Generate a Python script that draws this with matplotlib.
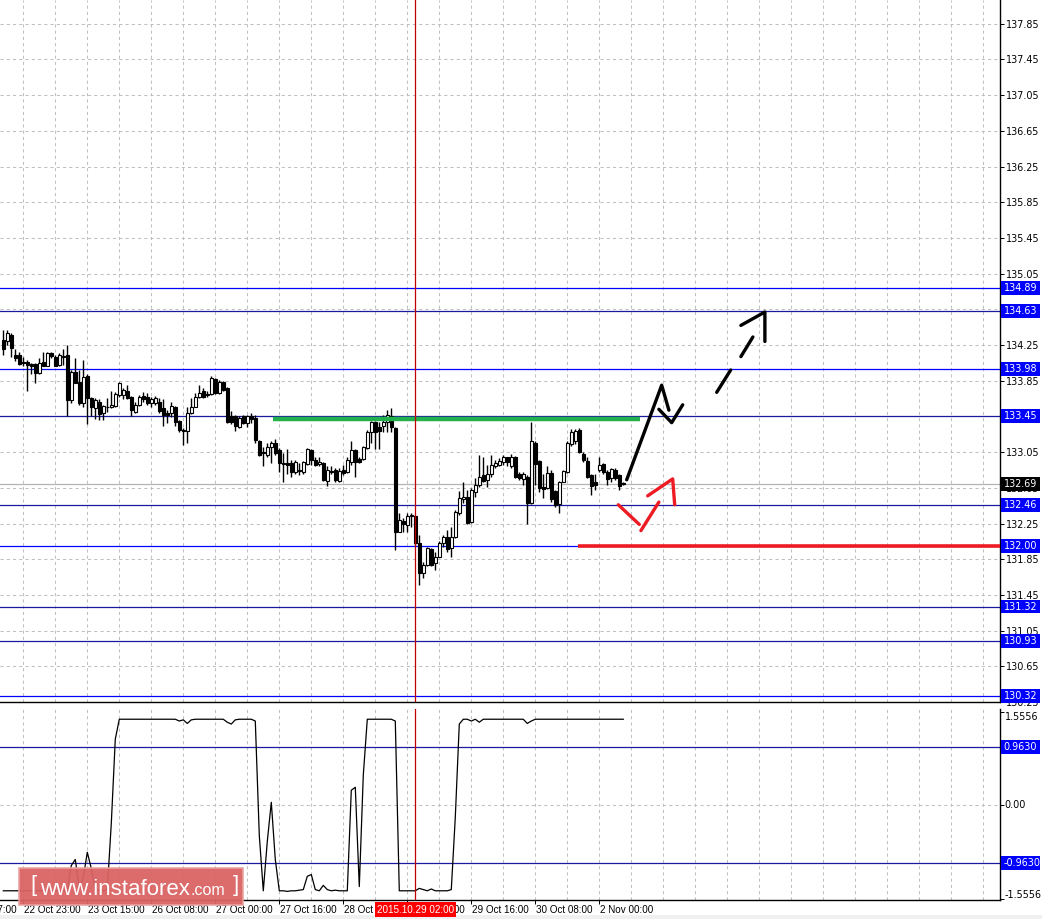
import matplotlib
matplotlib.use("Agg")
import matplotlib.pyplot as plt
import matplotlib.transforms as mtransforms
from matplotlib.patches import FancyBboxPatch, Rectangle
import numpy as np

# H1 candles, one per bar index
opens = [
    134.31, 134.30, 134.36, 134.14, 134.14, 134.06, 134.06, 134.04, 134.04, 133.94,
    134.06, 134.02, 134.16, 134.12, 134.03, 134.13, 134.14, 133.63, 133.95, 133.84,
    133.60, 133.90, 133.66, 133.54, 133.61, 133.49, 133.55, 133.56, 133.57, 133.69,
    133.69, 133.74, 133.67, 133.50, 133.58, 133.68, 133.67, 133.60, 133.60, 133.61,
    133.54, 133.49, 133.49, 133.56, 133.40, 133.30, 133.29, 133.49, 133.56, 133.67,
    133.73, 133.70, 133.70, 133.87, 133.71, 133.84, 133.77, 133.45, 133.45, 133.33,
    133.45, 133.38, 133.45, 133.43, 133.18, 133.05, 133.02, 133.11, 133.15, 133.07,
    132.93, 132.93, 132.93, 132.83, 132.85, 132.83, 132.92, 133.07, 132.96, 132.92,
    132.93, 132.73, 132.84, 132.85, 132.73, 132.85, 132.83, 132.94, 133.07, 132.97,
    132.97, 133.10, 133.27, 133.39, 133.33, 133.34, 133.39, 133.46, 133.32, 132.15,
    132.28, 132.23, 132.33, 132.33, 132.03, 131.69, 131.79, 131.96, 131.81, 131.88,
    132.03, 132.10, 131.97, 132.10, 132.37, 132.53, 132.55, 132.27, 132.60, 132.68,
    132.79, 132.74, 132.80, 132.89, 132.91, 132.94, 132.99, 132.89, 133.00, 132.80,
    132.75, 132.77, 132.48, 133.15, 132.95, 132.66, 132.65, 132.82, 132.61, 132.47,
    132.72, 132.83, 133.14, 133.17, 133.30, 133.03, 132.95, 132.79, 132.71, 132.85,
    132.92, 132.83, 132.76, 132.85, 132.79, 132.70,
]
highs = [
    134.42, 134.42, 134.38, 134.20, 134.17, 134.12, 134.08, 134.05, 134.05, 134.11,
    134.17, 134.17, 134.17, 134.14, 134.16, 134.20, 134.25, 133.97, 134.11, 133.97,
    134.08, 133.92, 133.67, 133.66, 133.64, 133.58, 133.66, 133.74, 133.72, 133.84,
    133.77, 133.80, 133.68, 133.61, 133.69, 133.72, 133.71, 133.67, 133.68, 133.66,
    133.64, 133.52, 133.61, 133.57, 133.41, 133.32, 133.55, 133.66, 133.71, 133.80,
    133.77, 133.73, 133.90, 133.88, 133.86, 133.85, 133.78, 133.51, 133.47, 133.46,
    133.47, 133.47, 133.49, 133.47, 133.19, 133.11, 133.15, 133.17, 133.20, 133.10,
    133.04, 133.09, 132.96, 132.96, 132.93, 132.95, 133.10, 133.09, 133.00, 132.99,
    132.94, 132.89, 132.89, 132.87, 132.87, 132.91, 132.99, 133.18, 133.08, 133.00,
    133.12, 133.30, 133.40, 133.40, 133.39, 133.47, 133.52, 133.54, 133.33, 132.37,
    132.31, 132.37, 132.37, 132.34, 132.12, 131.82, 131.99, 131.98, 131.93, 132.05,
    132.12, 132.18, 132.21, 132.40, 132.61, 132.72, 132.63, 132.65, 132.76, 133.02,
    132.99, 132.91, 133.02, 132.96, 132.98, 133.02, 133.00, 133.03, 133.01, 132.83,
    132.83, 132.79, 133.39, 133.17, 132.96, 132.80, 132.89, 132.85, 132.62, 132.73,
    132.85, 133.17, 133.31, 133.31, 133.32, 133.05, 132.99, 132.81, 132.80, 132.99,
    132.93, 132.85, 132.87, 132.87, 132.81, 132.71,
]
lows = [
    134.14, 134.25, 134.12, 134.07, 134.03, 134.01, 133.74, 133.92, 133.83, 133.93,
    134.01, 134.01, 134.10, 134.01, 134.01, 134.03, 133.46, 133.60, 133.82, 133.58,
    133.56, 133.36, 133.45, 133.42, 133.41, 133.41, 133.50, 133.54, 133.56, 133.67,
    133.65, 133.64, 133.45, 133.49, 133.57, 133.61, 133.58, 133.56, 133.58, 133.49,
    133.34, 133.38, 133.44, 133.34, 133.28, 133.13, 133.15, 133.48, 133.55, 133.66,
    133.66, 133.67, 133.69, 133.70, 133.70, 133.74, 133.38, 133.36, 133.29, 133.32,
    133.36, 133.33, 133.38, 133.15, 133.01, 132.90, 133.00, 132.93, 133.02, 132.83,
    132.72, 132.80, 132.77, 132.80, 132.79, 132.81, 132.91, 132.91, 132.89, 132.89,
    132.73, 132.67, 132.80, 132.72, 132.72, 132.79, 132.82, 132.91, 132.77, 132.93,
    132.96, 133.08, 133.15, 133.08, 133.08, 133.28, 133.28, 133.28, 131.95, 132.15,
    132.16, 132.16, 132.21, 132.01, 131.56, 131.64, 131.77, 131.77, 131.73, 131.87,
    131.99, 131.93, 131.87, 132.09, 132.35, 132.48, 132.25, 132.26, 132.55, 132.66,
    132.72, 132.66, 132.77, 132.87, 132.89, 132.91, 132.89, 132.87, 132.76, 132.74,
    132.68, 132.24, 132.47, 132.68, 132.60, 132.54, 132.64, 132.49, 132.44, 132.37,
    132.71, 132.82, 133.12, 133.14, 133.04, 132.94, 132.76, 132.57, 132.63, 132.83,
    132.81, 132.68, 132.72, 132.74, 132.63, 132.68,
]
closes = [
    134.21, 134.38, 134.22, 134.10, 134.04, 134.05, 134.03, 134.02, 133.94, 134.05,
    134.02, 134.16, 134.13, 134.02, 134.14, 134.12, 133.63, 133.95, 133.83, 133.60,
    133.89, 133.66, 133.55, 133.63, 133.48, 133.57, 133.56, 133.58, 133.70, 133.82,
    133.75, 133.66, 133.52, 133.58, 133.67, 133.65, 133.60, 133.65, 133.66, 133.51,
    133.47, 133.47, 133.57, 133.39, 133.30, 133.29, 133.49, 133.56, 133.67, 133.71,
    133.67, 133.69, 133.88, 133.71, 133.84, 133.75, 133.39, 133.39, 133.34, 133.43,
    133.38, 133.45, 133.42, 133.19, 133.02, 133.04, 133.11, 133.15, 133.04, 132.93,
    132.92, 132.91, 132.83, 132.94, 132.84, 132.94, 133.08, 132.96, 132.91, 132.94,
    132.74, 132.85, 132.83, 132.74, 132.84, 132.82, 132.96, 133.07, 132.94, 132.94,
    133.11, 133.27, 133.39, 133.27, 133.29, 133.39, 133.47, 133.33, 132.16, 132.29,
    132.25, 132.33, 132.35, 132.03, 131.70, 131.79, 131.97, 131.79, 131.87, 132.03,
    132.10, 131.96, 132.10, 132.38, 132.54, 132.55, 132.26, 132.62, 132.68, 132.77,
    132.73, 132.80, 132.91, 132.93, 132.95, 132.99, 132.94, 133.00, 132.77, 132.76,
    132.80, 132.48, 133.17, 132.92, 132.65, 132.64, 132.82, 132.52, 132.46, 132.72,
    132.84, 133.15, 133.28, 133.29, 133.05, 132.96, 132.77, 132.67, 132.68, 132.91,
    132.83, 132.75, 132.86, 132.76, 132.67, 132.69,
]

# oscillator in the lower window
osc = [
    -1.42, -1.42, -1.42, -1.42, -1.42, -1.42, -1.42, -1.42, -1.42, -1.42,
    -1.42, -1.42, -1.42, -1.42, -1.42, -1.42, -1.42, -1.00, -0.90, -1.38,
    -1.20, -0.78, -1.05, -1.40, -1.42, -1.42, -1.40, -0.30, 1.10, 1.43,
    1.43, 1.43, 1.43, 1.43, 1.43, 1.43, 1.43, 1.43, 1.43, 1.43,
    1.43, 1.43, 1.43, 1.43, 1.40, 1.42, 1.36, 1.42, 1.43, 1.43,
    1.43, 1.43, 1.43, 1.43, 1.43, 1.43, 1.38, 1.35, 1.42, 1.43,
    1.43, 1.43, 1.43, 1.40, -0.50, -1.42, -0.60, 0.05, -0.90, -1.42,
    -1.42, -1.43, -1.42, -1.42, -1.41, -1.40, -1.18, -1.15, -1.40, -1.42,
    -1.33, -1.40, -1.42, -1.41, -1.42, -1.42, -1.42, 0.25, 0.30, -1.35,
    0.50, 1.43, 1.43, 1.43, 1.43, 1.43, 1.43, 1.43, 1.40, -1.42,
    -1.42, -1.42, -1.42, -1.42, -1.38, -1.40, -1.42, -1.39, -1.42, -1.42,
    -1.42, -1.42, -1.40, -0.20, 1.35, 1.43, 1.43, 1.40, 1.43, 1.38,
    1.43, 1.43, 1.43, 1.43, 1.43, 1.43, 1.43, 1.43, 1.43, 1.43,
    1.43, 1.36, 1.40, 1.43, 1.43, 1.43, 1.43, 1.43, 1.43, 1.43,
    1.43, 1.43, 1.43, 1.43, 1.43, 1.43, 1.43, 1.43, 1.43, 1.43,
    1.43, 1.43, 1.43, 1.43, 1.43, 1.43,
]

# horizontal levels
levels = [134.89, 134.63, 133.98, 133.45, 132.46, 132.00, 131.32, 130.93, 130.32]
level_bright = [True, False, True, False, False, True, False, False, True]
last_price = 132.69
price_ticks = [137.85, 137.45, 137.05, 136.65, 136.25, 135.85, 135.45, 135.05, 134.65,
               134.25, 133.85, 133.45, 133.05, 132.65, 132.25, 131.85, 131.45, 131.05,
               130.65, 130.25]
osc_levels = [0.9630, -0.9630]
osc_limit = 1.5556

time_bars = [-11, 5, 21, 37, 53, 69, 85, 101, 117, 133, 149]
time_labels = ["22 Oct 07:00", "22 Oct 23:00", "23 Oct 15:00", "26 Oct 08:00",
               "27 Oct 00:00", "27 Oct 16:00", "28 Oct 08:00", "29 Oct 00:00",
               "29 Oct 16:00", "30 Oct 08:00", "2 Nov 00:00"]
cursor_bar = 103.05
cursor_label = "2015.10.29 02:00"

# hand drawn forecast (bar, price)
green_bars = [67.4, 159.2]
green_price = 133.42
red_bar_start = 143.7
red_price = 132.00
black_strokes = [
    ([155.85, 164.6, 166.4], [132.74, 133.80, 133.52]),
    ([163.9, 167.1, 169.85], [133.53, 133.38, 133.58]),
    ([178.35, 181.85], [133.72, 133.97]),
    ([184.4, 187.4], [134.12, 134.34]),
    ([184.4, 190.4, 190.4], [134.47, 134.62, 134.29]),
]
red_strokes = [
    ([153.75, 159.0], [132.46, 132.24]),
    ([159.4, 163.9], [132.17, 132.49]),
    ([161.1, 167.35, 167.85], [132.56, 132.75, 132.46]),
]

W, H = 1042, 919
fig = plt.figure(figsize=(W / 100, H / 100), dpi=100)
fig.patch.set_facecolor("white")
plt.rcParams["font.family"] = ["DejaVu Sans"]

def fx(x):
    return x / W

def fy(y):
    return 1 - y / H

ax = fig.add_axes([0, fy(702), fx(1000), fy(0) - fy(702)])
ax2 = fig.add_axes([0, fy(900), fx(1000), fy(709) - fy(900)])

xmin, xmax = -0.825, 249.18
BLUE = "#0000ff"
NAVY = "#1a1aa0"
GRID = "#c0c0c0"
FS = 6.9
TFONT = "Liberation Sans"

for a in (ax, ax2):
    a.set_xlim(xmin, xmax)
    a.set_facecolor("white")
    for s in ("left", "top"):
        a.spines[s].set_visible(False)
    for s in ("right", "bottom"):
        a.spines[s].set_linewidth(1.0)
    for gx in np.arange(5, xmax, 8):
        a.axvline(gx, color=GRID, lw=0.75, ls=(0, (3, 3)), zorder=0)

ax.set_ylim(130.254, 138.116)
ax2.set_ylim(-1.573, 1.60)

# price grid and axis
for p in price_ticks:
    ax.axhline(p, color=GRID, lw=0.75, ls=(0, (3, 3)), zorder=0)
ax.yaxis.tick_right()
ax.set_yticks(price_ticks)
ax.set_yticklabels([f"{p:.2f}" for p in price_ticks])
ax.tick_params(axis="y", length=3, width=0.7, pad=1.2, labelsize=FS)
ax.set_xticks([])

# candles
x = np.arange(len(opens))
o = np.array(opens)
c = np.array(closes)
ax.vlines(x, lows, highs, color="black", lw=1.0, zorder=3)
body_low = np.minimum(o, c)
body_h = np.maximum(np.abs(c - o), 0.006)
colors = ["white" if cc > oo else "black" for oo, cc in zip(o, c)]
ax.bar(x, body_h, bottom=body_low, width=0.68, color=colors,
       edgecolor="black", linewidth=0.8, zorder=4)

# levels
ax.axhline(last_price, color="#b4b4b4", lw=0.9, zorder=1)
for lv, br in zip(levels, level_bright):
    ax.axhline(lv, color=BLUE if br else NAVY, lw=0.9, zorder=2)


def tag(axis, value, text, fc, box_h):
    tr = mtransforms.blended_transform_factory(axis.transAxes, axis.transData)
    axis.add_patch(Rectangle((1.001, value - box_h / 2), 0.039, box_h, transform=tr,
                             fc=fc, ec="none", clip_on=False, zorder=10))
    axis.text(1.0035, value, text, transform=tr, ha="left", va="center",
              fontsize=FS, color="white", clip_on=False, zorder=11)


for lv in levels:
    tag(ax, lv, f"{lv:.2f}", BLUE, 0.155)
tag(ax, last_price, f"{last_price:.2f}", "black", 0.155)

# drawings
ax.plot(green_bars, [green_price, green_price], color="#22b14c", lw=3.2,
        solid_capstyle="butt", zorder=5)
ax.plot([red_bar_start, xmax], [red_price, red_price], color="#ed1c24", lw=2.6,
        solid_capstyle="butt", zorder=5)
for bx, py in black_strokes:
    ax.plot(bx, py, color="black", lw=2.4, solid_capstyle="round", zorder=6)
for bx, py in red_strokes:
    ax.plot(bx, py, color="#ed1c24", lw=2.4, solid_capstyle="round", zorder=6)

# crosshair
ax.axvline(cursor_bar, color="#c00000", lw=0.9, zorder=7)
ax2.axvline(cursor_bar, color="#c00000", lw=0.9, zorder=7)

# oscillator window
ax2.axhline(0, color=GRID, lw=0.75, ls=(0, (3, 3)), zorder=0)
for lv in osc_levels:
    ax2.axhline(lv, color=NAVY, lw=0.9, zorder=2)
ax2.plot(x, osc, color="black", lw=0.9, zorder=4)
ax2.yaxis.tick_right()
ax2.set_yticks([osc_limit, 0.0, -osc_limit] + osc_levels)
ax2.set_yticklabels([])
ax2.tick_params(axis="y", length=3, width=0.7)
ytr2 = mtransforms.blended_transform_factory(ax2.transAxes, ax2.transData)
ax2.text(1.0045, osc_limit + 0.0, f"{osc_limit:.4f}", transform=ytr2, ha="left",
         va="top", fontsize=FS, clip_on=False)
ax2.text(1.0045, 0.0, "0.00", transform=ytr2, ha="left", va="center",
         fontsize=FS, clip_on=False)
ax2.text(1.0045, -osc_limit - 0.01, f"{-osc_limit:.4f}", transform=ytr2, ha="left",
         va="bottom", fontsize=FS, clip_on=False)
for lv in osc_levels:
    tag(ax2, lv, f"{lv:.4f}", BLUE, 0.23)

# time axis
ax2.set_xticks(time_bars[1:])
ax2.set_xticklabels([])
ax2.tick_params(axis="x", length=3, width=0.7)
xtr = mtransforms.blended_transform_factory(ax2.transData, ax2.transAxes)
for b, lab in zip(time_bars, time_labels):
    ax2.text(b + 0.1, -0.05, lab, transform=xtr, ha="left", va="center",
             fontsize=7.1, family=TFONT, clip_on=False, zorder=5)
ax2.text(cursor_bar, -0.05, cursor_label, transform=xtr, ha="center", va="center",
         fontsize=7.1, family=TFONT, color="white", clip_on=False, zorder=11,
         bbox=dict(boxstyle="square,pad=0.22", fc="#ff0000", ec="none"))

# bottom strip
fig.patches.append(Rectangle((0, 0), 1, fy(915), transform=fig.transFigure,
                             fc="#f0f0f0", ec="none", zorder=-1))

# watermark
wm = FancyBboxPatch((fx(19), fy(905)), fx(243) - fx(19), fy(868) - fy(905),
                    boxstyle="square,pad=0", transform=fig.transFigure,
                    fc="#da6464", ec="#eaa0a0", lw=1.2, alpha=0.95, zorder=20)
fig.patches.append(wm)
fig.text(fx(30), fy(886), "[", fontsize=16, color="white", ha="left", va="center",
         zorder=21, family=TFONT)
fig.text(fx(190), fy(895), "www.instaforex", fontsize=16, color="white", ha="right",
         va="baseline", zorder=21, family=TFONT)
fig.text(fx(190), fy(895), ".com", fontsize=11.5, color="white", ha="left",
         va="baseline", zorder=21, family=TFONT)
fig.text(fx(233), fy(886), "]", fontsize=16, color="white", ha="left", va="center",
         zorder=21, family=TFONT)

fig.savefig("out.png", dpi=100)
